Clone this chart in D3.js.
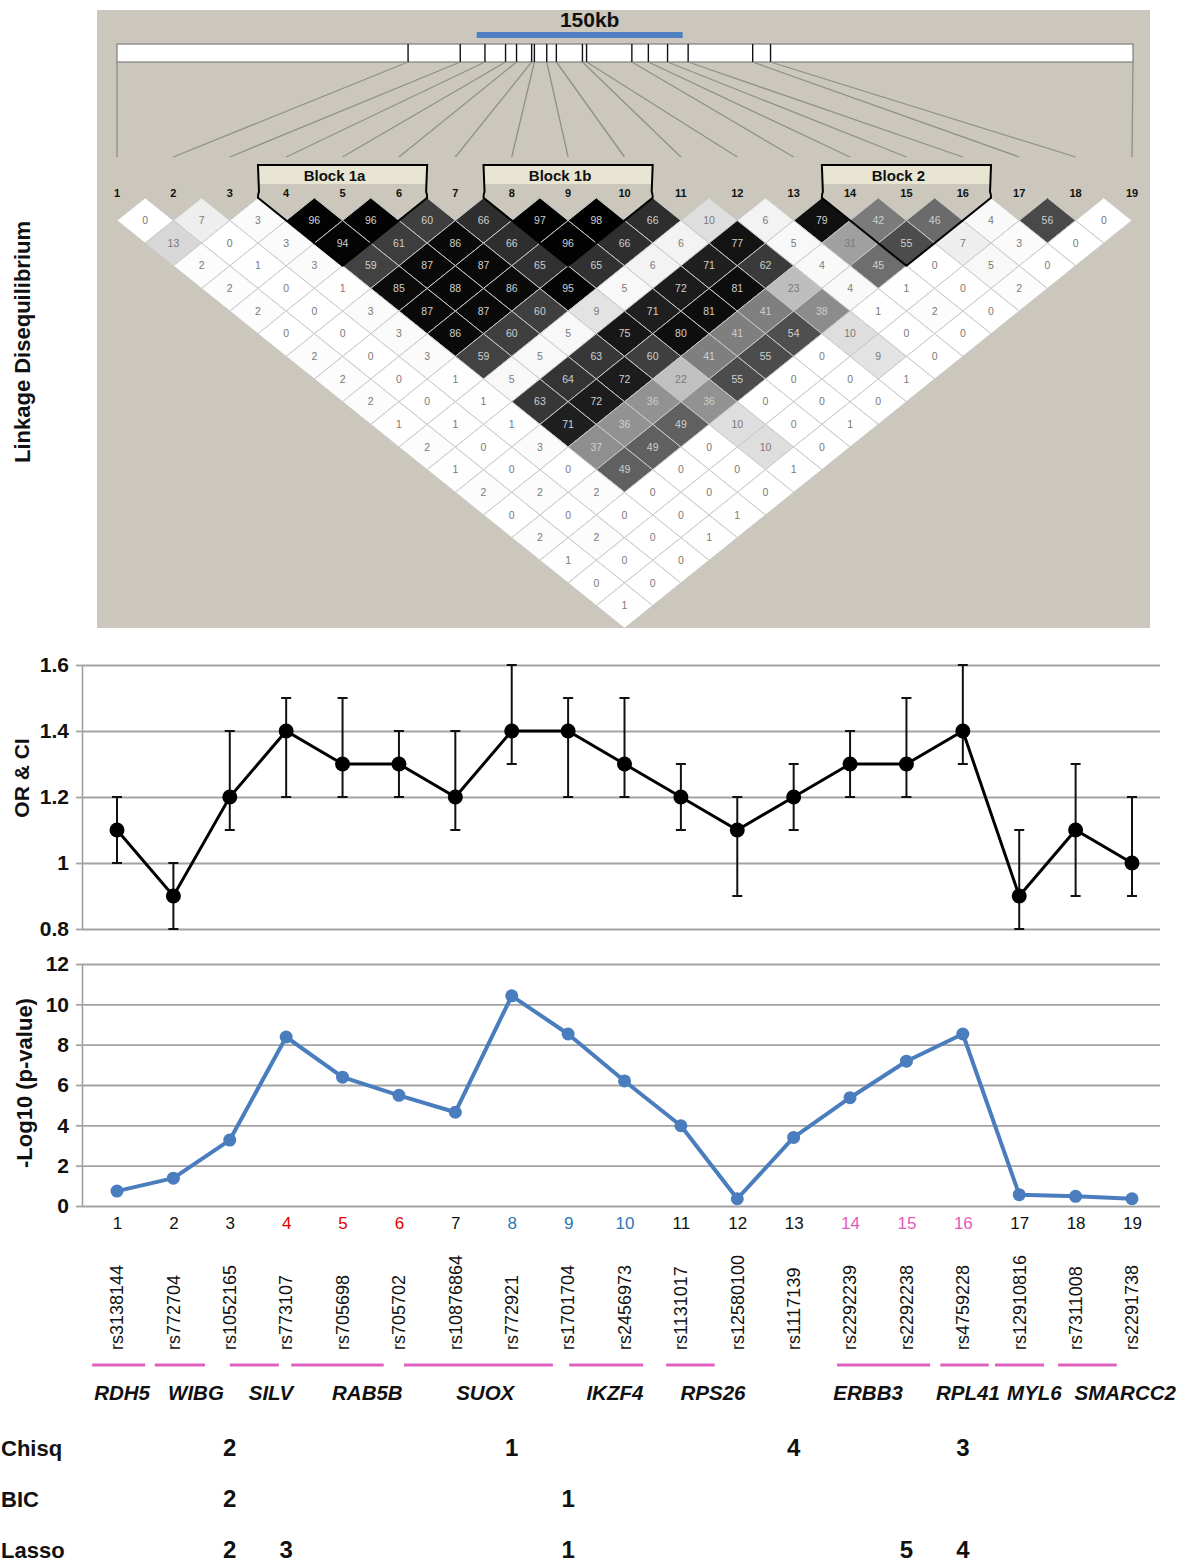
<!DOCTYPE html>
<html>
<head>
<meta charset="utf-8">
<script src="https://cdn.jsdelivr.net/npm/d3@7"></script>
<style>
  body { margin: 0; background: #ffffff; }
  svg { display: block; }
  text { font-family: "Liberation Sans", Arial, sans-serif; }
</style>
</head>
<body>
<svg id="fig" width="1193" height="1562"></svg>
<script>
// ---------------- data ----------------
const snpIds = d3.range(1, 20);
const rsIds = ["rs3138144", "rs772704", "rs1052165", "rs773107", "rs705698", "rs705702",
  "rs10876864", "rs772921", "rs1701704", "rs2456973", "rs1131017", "rs12580100",
  "rs1117139", "rs2292239", "rs2292238", "rs4759228", "rs12910816", "rs7311008", "rs2291738"];
// physical position of each marker along the region (kb from the first marker)
const snpPosKb = [0, 212, 250, 268, 283, 291, 302, 304, 313, 320, 339, 342, 375, 387, 401, 416, 463, 476, 740];
const regionKb = 740;
const scaleBarKb = [262, 412];

// pairwise LD (r^2 x 100), grouped by marker distance: row k holds pairs (i, i+k+1)
const ldByDistance = [
  [0, 7, 3, 96, 96, 60, 66, 97, 98, 66, 10, 6, 79, 42, 46, 4, 56, 0],
  [13, 0, 3, 94, 61, 86, 66, 96, 66, 6, 77, 5, 31, 55, 7, 3, 0],
  [2, 1, 3, 59, 87, 87, 65, 65, 6, 71, 62, 4, 45, 0, 5, 0],
  [2, 0, 1, 85, 88, 86, 95, 5, 72, 81, 23, 4, 1, 0, 2],
  [2, 0, 3, 87, 87, 60, 9, 71, 81, 41, 38, 1, 2, 0],
  [0, 0, 3, 86, 60, 5, 75, 80, 41, 54, 10, 0, 0],
  [2, 0, 3, 59, 5, 63, 60, 41, 55, 0, 9, 0],
  [2, 0, 1, 5, 64, 72, 22, 55, 0, 0, 1],
  [2, 0, 1, 63, 72, 36, 36, 0, 0, 0],
  [1, 1, 1, 71, 36, 49, 10, 0, 1],
  [2, 0, 3, 37, 49, 0, 10, 0],
  [1, 0, 0, 49, 0, 0, 1],
  [2, 2, 2, 0, 0, 0],
  [0, 0, 0, 0, 1],
  [2, 2, 0, 1],
  [1, 0, 0],
  [0, 0],
  [1]
];

const blocks = [
  { name: "Block 1a", from: 4, to: 6 },
  { name: "Block 1b", from: 8, to: 10 },
  { name: "Block 2", from: 14, to: 16 }
];

// odds ratios with confidence limits
const orEstimate = [1.1, 0.9, 1.2, 1.4, 1.3, 1.3, 1.2, 1.4, 1.4, 1.3, 1.2, 1.1, 1.2, 1.3, 1.3, 1.4, 0.9, 1.1, 1.0];
const orLower    = [1.0, 0.8, 1.1, 1.2, 1.2, 1.2, 1.1, 1.3, 1.2, 1.2, 1.1, 0.9, 1.1, 1.2, 1.2, 1.3, 0.8, 0.9, 0.9];
const orUpper    = [1.2, 1.0, 1.4, 1.5, 1.5, 1.4, 1.4, 1.6, 1.5, 1.5, 1.3, 1.2, 1.3, 1.4, 1.5, 1.6, 1.1, 1.3, 1.2];
const orTicks = [0.8, 1.0, 1.2, 1.4, 1.6];

// -log10 p-values
const negLogP = [0.74, 1.38, 3.27, 8.38, 6.39, 5.49, 4.65, 10.42, 8.53, 6.2, 3.98, 0.36, 3.4, 5.37, 7.18, 8.53, 0.56, 0.48, 0.36];
const pTicks = [0, 2, 4, 6, 8, 10, 12];

// gene extents and label anchors, in marker-index units
const genes = [
  { name: "RDH5",    start: 0.56,  end: 1.5,   label: 1.09 },
  { name: "WIBG",    start: 1.67,  end: 2.56,  label: 2.4 },
  { name: "SILV",    start: 3.0,   end: 3.87,  label: 3.73 },
  { name: "RAB5B",   start: 4.09,  end: 5.73,  label: 5.44 },
  { name: "SUOX",    start: 6.09,  end: 8.73,  label: 7.53 },
  { name: "IKZF4",   start: 9.02,  end: 10.33, label: 9.83 },
  { name: "RPS26",   start: 10.74, end: 11.6,  label: 11.57 },
  { name: "ERBB3",   start: 13.77, end: 15.42, label: 14.32 },
  { name: "RPL41",   start: 15.6,  end: 16.46, label: 16.09 },
  { name: "MYL6",    start: 16.57, end: 17.44, label: 17.27 },
  { name: "SMARCC2", start: 17.69, end: 18.73, label: 18.88 }
];

// selection order of markers under each method
const chisqRank = [{ snp: 3, rank: 2 }, { snp: 8, rank: 1 }, { snp: 13, rank: 4 }, { snp: 16, rank: 3 }];
const bicRank   = [{ snp: 3, rank: 2 }, { snp: 9, rank: 1 }];
const lassoRank = [{ snp: 3, rank: 2 }, { snp: 4, rank: 3 }, { snp: 9, rank: 1 }, { snp: 15, rank: 5 }, { snp: 16, rank: 4 }];
const methods = [
  { name: "Chisq", ranks: chisqRank },
  { name: "BIC", ranks: bicRank },
  { name: "Lasso", ranks: lassoRank }
];

// ---------------- layout ----------------
const svg = d3.select("#fig");
const xSnp = d3.scalePoint().domain(snpIds).range([117, 1132]);
const xIdx = d3.scaleLinear().domain([1, 19]).range([117, 1132]);
const xKb = d3.scaleLinear().domain([0, regionKb]).range([117, 1133]);
const ldRowY = d3.scaleLinear().domain([1, 18]).range([220.5, 605.6]);
const hw = (xSnp(2) - xSnp(1)) / 2;
const hh = ldRowY(2) - ldRowY(1);
const ldShade = d3.scaleLinear()
  .domain([0, 5, 10, 23, 31, 38, 45, 55, 62, 72, 80, 100])
  .range([255, 248, 222, 190, 160, 140, 110, 76, 58, 28, 14, 0])
  .clamp(true);
const grey = v => { const g = Math.round(ldShade(v)); return d3.rgb(g, g, g).formatHex(); };

const blockColor = { "Block 1a": "#e00000", "Block 1b": "#2b78b8", "Block 2": "#e35abd" };
const snpColor = id => {
  const b = blocks.find(b => id >= b.from && id <= b.to);
  return b ? blockColor[b.name] : "#111";
};

// ---------------- LD panel ----------------
const ld = svg.append("g");
ld.append("rect").attr("x", 97).attr("y", 10).attr("width", 1053).attr("height", 618).attr("fill", "#cbc7bc");

// scale bar
ld.append("line").attr("x1", xKb(scaleBarKb[0])).attr("x2", xKb(scaleBarKb[1]))
  .attr("y1", 35).attr("y2", 35).attr("stroke", "#4f7fc0").attr("stroke-width", 6);
ld.append("text").attr("x", xKb((scaleBarKb[0] + scaleBarKb[1]) / 2) + 10).attr("y", 27)
  .attr("text-anchor", "middle").attr("font-size", 21).attr("font-weight", "bold")
  .attr("fill", "#111").text((scaleBarKb[1] - scaleBarKb[0]) + "kb");

// region bar with marker ticks
ld.append("rect").attr("x", xKb(0)).attr("y", 44).attr("width", xKb(regionKb) - xKb(0)).attr("height", 18)
  .attr("fill", "#ffffff").attr("stroke", "#7d7d7d").attr("stroke-width", 1.2);
ld.selectAll(".tick-mk").data(snpPosKb.slice(1, -1)).join("line")
  .attr("x1", d => xKb(d)).attr("x2", d => xKb(d)).attr("y1", 44).attr("y2", 62)
  .attr("stroke", "#111").attr("stroke-width", 1.4);

// connectors from physical position to marker column
ld.selectAll(".conn").data(snpIds).join("line")
  .attr("x1", i => xKb(snpPosKb[i - 1])).attr("y1", 62)
  .attr("x2", i => xSnp(i)).attr("y2", 157)
  .attr("stroke", "#8f8f8f").attr("stroke-width", 1.3);

// marker numbers
ld.selectAll(".snpnum").data(snpIds).join("text")
  .attr("x", i => xSnp(i)).attr("y", 197)
  .attr("text-anchor", "middle").attr("font-size", 11).attr("font-weight", "bold")
  .attr("fill", "#111").text(i => i);

// LD cells
const cells = [];
ldByDistance.forEach((row, k) => row.forEach((v, i) => cells.push({ a: i + 1, b: i + k + 2, d: k + 1, v })));
const cellG = ld.selectAll(".cell").data(cells).join("g")
  .attr("transform", c => `translate(${(xSnp(c.a) + xSnp(c.b)) / 2},${ldRowY(c.d)})`);
cellG.append("path")
  .attr("d", `M0,${-hh}L${hw},0L0,${hh}L${-hw},0Z`)
  .attr("fill", c => grey(c.v)).attr("stroke", "#c9c9c9").attr("stroke-width", 1);
cellG.append("text")
  .attr("text-anchor", "middle").attr("dy", "0.35em").attr("font-size", 10.5)
  .attr("fill", c => c.v >= 34 ? "#cfcfcf" : "#7a7a7a").text(c => c.v);

// haplotype blocks
const topY = ldRowY(1) - hh;
blocks.forEach(b => {
  const x0 = xSnp(b.from) - hw, x1 = xSnp(b.to) + hw;
  const tipX = (xSnp(b.from) + xSnp(b.to)) / 2, tipY = ldRowY(b.to - b.from) + hh;
  ld.append("rect").attr("x", x0).attr("y", 166).attr("width", x1 - x0).attr("height", 18)
    .attr("fill", "#e8e5d2");
  ld.append("path")
    .attr("d", `M${x0},${topY}Q${x0},${topY - 4} ${x0 + 1},${topY - 6}L${x0},${165}L${x1},${165}L${x1 - 1},${topY - 6}Q${x1},${topY - 4} ${x1},${topY}L${tipX},${tipY}Z`)
    .attr("fill", "none").attr("stroke", "#000").attr("stroke-width", 2).attr("stroke-linejoin", "miter");
  ld.append("text").attr("x", (x0 + x1) / 2 - 8).attr("y", 181)
    .attr("text-anchor", "middle").attr("font-size", 15).attr("font-weight", "bold")
    .attr("fill", "#111").text(b.name);
});

svg.append("text").attr("transform", "translate(22,342) rotate(-90)")
  .attr("text-anchor", "middle").attr("dy", "0.35em").attr("font-size", 22).attr("font-weight", "bold")
  .attr("fill", "#111").text("Linkage Disequilibrium");

// ---------------- shared axis helper ----------------
const plotLeft = 82, plotRight = 1160;
function yAxisWithGrid(g, y, ticks, fmt) {
  g.attr("transform", `translate(${plotLeft},0)`)
    .call(d3.axisLeft(y).tickValues(ticks).tickFormat(fmt).tickSize(-(plotRight - plotLeft)).tickSizeOuter(0).tickPadding(13));
  g.select(".domain").attr("stroke", "#9a9a9a").attr("stroke-width", 1.5);
  g.selectAll(".tick line").attr("stroke", "#a3a3a3").attr("stroke-width", 1.8);
  g.selectAll(".tick").append("line").attr("x1", -6).attr("x2", 0).attr("stroke", "#a3a3a3").attr("stroke-width", 1.8);
  g.selectAll(".tick text").attr("font-size", 21).attr("font-weight", "bold").attr("fill", "#111")
    .attr("font-family", "Liberation Sans, Arial, sans-serif");
}

// ---------------- OR panel ----------------
const yOR = d3.scaleLinear().domain([0.8, 1.6]).range([929, 665]);
svg.append("g").call(yAxisWithGrid, yOR, orTicks, d => String(+d.toFixed(1)));
const orG = svg.append("g");
orG.selectAll(".err").data(snpIds).join("g").each(function (i) {
  const g = d3.select(this), x = xSnp(i);
  g.append("line").attr("x1", x).attr("x2", x).attr("y1", yOR(orLower[i - 1])).attr("y2", yOR(orUpper[i - 1]))
    .attr("stroke", "#111").attr("stroke-width", 2);
  [orLower[i - 1], orUpper[i - 1]].forEach(v => g.append("line")
    .attr("x1", x - 5).attr("x2", x + 5).attr("y1", yOR(v)).attr("y2", yOR(v))
    .attr("stroke", "#111").attr("stroke-width", 2));
});
orG.append("path").datum(snpIds)
  .attr("d", d3.line().x(i => xSnp(i)).y(i => yOR(orEstimate[i - 1])))
  .attr("fill", "none").attr("stroke", "#000").attr("stroke-width", 3);
orG.selectAll(".dot").data(snpIds).join("circle")
  .attr("cx", i => xSnp(i)).attr("cy", i => yOR(orEstimate[i - 1])).attr("r", 7.5).attr("fill", "#000");
svg.append("text").attr("transform", "translate(22,778) rotate(-90)")
  .attr("text-anchor", "middle").attr("dy", "0.35em").attr("font-size", 21).attr("font-weight", "bold")
  .attr("fill", "#111").text("OR & CI");

// ---------------- p-value panel ----------------
const yP = d3.scaleLinear().domain([0, 12]).range([1206, 964]);
svg.append("g").call(yAxisWithGrid, yP, pTicks, d3.format("d"));
const pG = svg.append("g");
pG.append("path").datum(snpIds)
  .attr("d", d3.line().x(i => xSnp(i)).y(i => yP(negLogP[i - 1])))
  .attr("fill", "none").attr("stroke", "#4a7dbd").attr("stroke-width", 4).attr("stroke-linejoin", "round");
pG.selectAll(".dot").data(snpIds).join("circle")
  .attr("cx", i => xSnp(i)).attr("cy", i => yP(negLogP[i - 1])).attr("r", 6.5).attr("fill", "#4a7dbd");
svg.append("text").attr("transform", "translate(24,1083) rotate(-90)")
  .attr("text-anchor", "middle").attr("dy", "0.35em").attr("font-size", 22).attr("font-weight", "bold")
  .attr("fill", "#111").text("-Log10 (p-value)");

// x axis: marker numbers
const xAx = svg.append("g").attr("transform", "translate(0,1206)")
  .call(d3.axisBottom(xSnp).tickSize(0).tickPadding(11));
xAx.select(".domain").remove();
xAx.selectAll(".tick text").attr("font-size", 17).attr("fill", i => snpColor(i))
  .attr("font-family", "Liberation Sans, Arial, sans-serif");

// rs identifiers
svg.selectAll(".rs").data(snpIds).join("text")
  .attr("transform", i => `translate(${xSnp(i)},1350) rotate(-90)`)
  .attr("dy", "0.35em").attr("font-size", 18).attr("fill", "#111")
  .text(i => rsIds[i - 1]);

// genes
svg.selectAll(".gspan").data(genes).join("line")
  .attr("x1", g => xIdx(g.start)).attr("x2", g => xIdx(g.end)).attr("y1", 1365).attr("y2", 1365)
  .attr("stroke", "#e060c0").attr("stroke-width", 3);
svg.selectAll(".gname").data(genes).join("text")
  .attr("x", g => xIdx(g.label)).attr("y", 1400).attr("text-anchor", "middle")
  .attr("font-size", 20.5).attr("font-weight", "bold").attr("font-style", "italic").attr("fill", "#111")
  .text(g => g.name);

// selection ranks
const rowY = d3.scalePoint().domain(methods.map(m => m.name)).range([1448, 1550]);
methods.forEach(m => {
  svg.append("text").attr("x", 1).attr("y", rowY(m.name)).attr("dy", "0.35em")
    .attr("font-size", 22).attr("font-weight", "bold").attr("fill", "#111")
    .attr("font-family", "Liberation Sans Narrow, Liberation Sans, sans-serif").text(m.name);
  svg.selectAll(null).data(m.ranks).join("text")
    .attr("x", r => xSnp(r.snp)).attr("y", rowY(m.name)).attr("dy", "0.35em").attr("text-anchor", "middle")
    .attr("font-size", 24).attr("font-weight", "bold").attr("fill", "#111")
    .attr("font-family", "Liberation Sans Narrow, Liberation Sans, sans-serif").text(r => r.rank);
});
</script>
</body>
</html>
